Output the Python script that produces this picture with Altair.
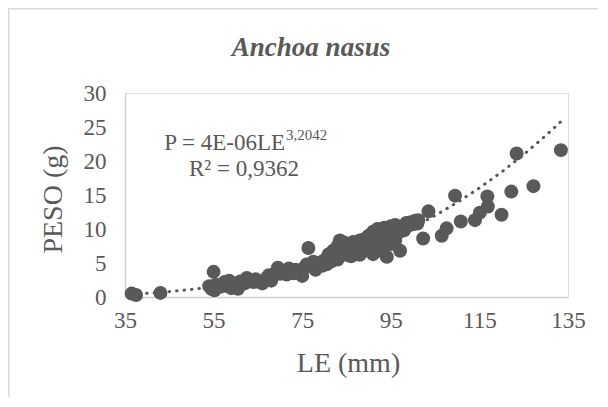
import altair as alt
import pandas as pd

LE = [36.5, 37.5, 43,
      54, 54.5, 55, 55.2, 55.5, 56.5, 57.5, 58, 58.5, 59, 59.5, 60, 60.5, 61, 62, 62.5, 63,
      64, 64.5, 65, 66, 67, 67.5, 68, 69, 69.5, 70, 71, 71.5, 72, 73, 73.5, 74, 75, 75.5,
      76, 76.4, 77, 77.5, 78, 78.5, 79, 79.5, 80, 80.5, 81, 81, 81.5, 82, 82, 82.5, 83, 83,
      83.5, 84, 84, 84.5, 85, 85, 85.5, 86, 86, 86.5, 87, 87, 87.5, 88, 88, 88.5, 89, 89,
      89.5, 90, 90, 90.5, 91, 91, 91.5, 92, 92, 92.5, 93, 93, 93.5, 94, 94.1, 94.5, 95, 95,
      95.5, 96, 96, 97, 97.1, 97.5, 98, 98.5, 99, 99.5, 100, 100.5, 101, 101.2, 102.3, 103.5,
      106.5, 107.6, 109.5, 110.8, 114, 115.1, 116.8, 116.9, 120, 122.2, 123.4, 127.2, 133.4]
PESO = [0.5, 0.3, 0.6,
        1.6, 1.2, 3.7, 1.0, 1.8, 1.5, 2.2, 1.6, 2.4, 1.3, 2.0, 1.8, 1.2, 2.3, 2.0, 2.8, 2.5,
        2.2, 2.6, 2.3, 2.0, 2.8, 3.2, 2.4, 3.5, 4.3, 3.4, 3.8, 3.3, 4.2, 3.5, 4.0, 3.6, 3.1, 4.3,
        4.8, 7.2, 4.5, 5.2, 4.0, 4.9, 5.0, 4.6, 5.4, 4.8, 5.6, 6.3, 5.2, 5.9, 6.8, 6.1, 5.5, 7.5,
        8.3, 6.4, 7.0, 8.0, 6.2, 7.3, 6.8, 7.6, 6.0, 8.1, 7.0, 6.5, 7.8, 8.3, 6.2, 7.4, 8.5, 6.8,
        7.9, 9.0, 7.2, 8.4, 9.6, 6.3, 8.8, 10.0, 7.5, 8.2, 9.5, 6.8, 10.2, 8.6, 5.9, 9.2, 10.4, 7.8,
        9.0, 10.6, 8.3, 9.6, 6.8, 10.2, 9.8, 10.9, 10.5, 11.0, 10.7, 11.2, 10.8, 11.3, 8.6, 12.6,
        9.0, 10.1, 14.9, 11.1, 11.3, 12.4, 14.8, 13.3, 12.1, 15.5, 21.1, 16.3, 21.6]

X_TICKS = [35, 55, 75, 95, 115, 135]
Y_TICKS = [0, 5, 10, 15, 20, 25, 30]
TREND_X = [36.5, 40, 45, 50, 55, 60, 65, 70, 75, 80, 85, 90, 95, 100, 105, 110, 115, 120, 125, 130, 133.4]
COEF_A = 4e-06
COEF_B = 3.2042

TITLE = "Anchoa nasus"
EQ_MAIN = "P = 4E-06LE"
EQ_EXP = "3,2042"
EQ_R2 = "R² = 0,9362"

COLOR = "#595959"
FONT = "Liberation Serif"
TITLE_FONT = "Times New Roman"

pts = pd.DataFrame({"LE": LE, "PESO": PESO})
trend = pd.DataFrame({"LE": TREND_X})
one = pd.DataFrame({"k": [0]})

W, H = 443, 204

xscale = alt.Scale(domain=[35, 135], nice=False, zero=False)
yscale = alt.Scale(domain=[0, 30], nice=False)

xaxis = alt.Axis(values=X_TICKS, grid=False, ticks=False, domainColor="#d0d0d0", domainWidth=1.5,
                 labelFont=FONT, labelFontSize=23, labelColor=COLOR, labelPadding=12,
                 labelOverlap=False, labelFlush=False,
                 title="LE (mm)", titleFont=FONT, titleFontSize=28, titleFontWeight="normal",
                 titleColor=COLOR, titleX=223, titleY=66, titleBaseline="middle", titleAnchor="middle")
yaxis = alt.Axis(values=Y_TICKS, grid=False, ticks=False, domainColor="#d0d0d0", domainWidth=1.5,
                 labelFont=FONT, labelFontSize=23, labelColor=COLOR, labelPadding=19,
                 labelOverlap=False, labelFlush=False,
                 title="PESO (g)", titleFont=FONT, titleFontSize=28, titleFontWeight="normal",
                 titleColor=COLOR, titleAngle=-90, titleX=-72, titleY=106,
                 titleBaseline="middle", titleAlign="center", titleAnchor="middle")

border = alt.Chart(one).mark_rect(fill="transparent", stroke="#d9d9d9", strokeWidth=1.5).encode(
    x=alt.value(-116.2), y=alt.value(-84.2), x2=alt.value(700), y2=alt.value(500)
)

line = alt.Chart(trend).transform_calculate(
    PESO=f"{COEF_A} * pow(datum.LE, {COEF_B})"
).mark_line(color=COLOR, strokeWidth=3, strokeDash=[0.5, 7], strokeCap="round").encode(
    x=alt.X("LE:Q", scale=xscale, axis=xaxis),
    y=alt.Y("PESO:Q", scale=yscale, axis=yaxis),
)

points = alt.Chart(pts).mark_circle(color=COLOR, opacity=1, size=195).encode(
    x=alt.X("LE:Q", scale=xscale, axis=xaxis),
    y=alt.Y("PESO:Q", scale=yscale, axis=yaxis),
)

title = alt.Chart(one).mark_text(text=TITLE, font=TITLE_FONT, fontSize=27, fontStyle="italic",
                                 fontWeight="bold", color=COLOR, align="center",
                                 baseline="middle").encode(x=alt.value(186), y=alt.value(-45))

eq1 = alt.Chart(one).mark_text(text=EQ_MAIN, font=FONT, fontSize=23, color=COLOR, align="right",
                               baseline="middle").encode(x=alt.value(160), y=alt.value(50))
eq2 = alt.Chart(one).mark_text(text=EQ_EXP, font=FONT, fontSize=15, color=COLOR, align="left",
                               baseline="middle").encode(x=alt.value(161), y=alt.value(42))
eq3 = alt.Chart(one).mark_text(text=EQ_R2, font=FONT, fontSize=23, color=COLOR, align="center",
                               baseline="middle").encode(x=alt.value(119), y=alt.value(76))

chart = alt.layer(border, line, points, title, eq1, eq2, eq3).properties(
    width=W, height=H,
    autosize=alt.AutoSizeParams(type="none"),
    padding={"left": 117, "top": 85, "right": 30, "bottom": 100},
).configure_view(stroke=None).configure(background="white").configure_axisY(labelOverlap=False)

chart.save("out.html", embed_options={"renderer": "svg", "actions": False})
